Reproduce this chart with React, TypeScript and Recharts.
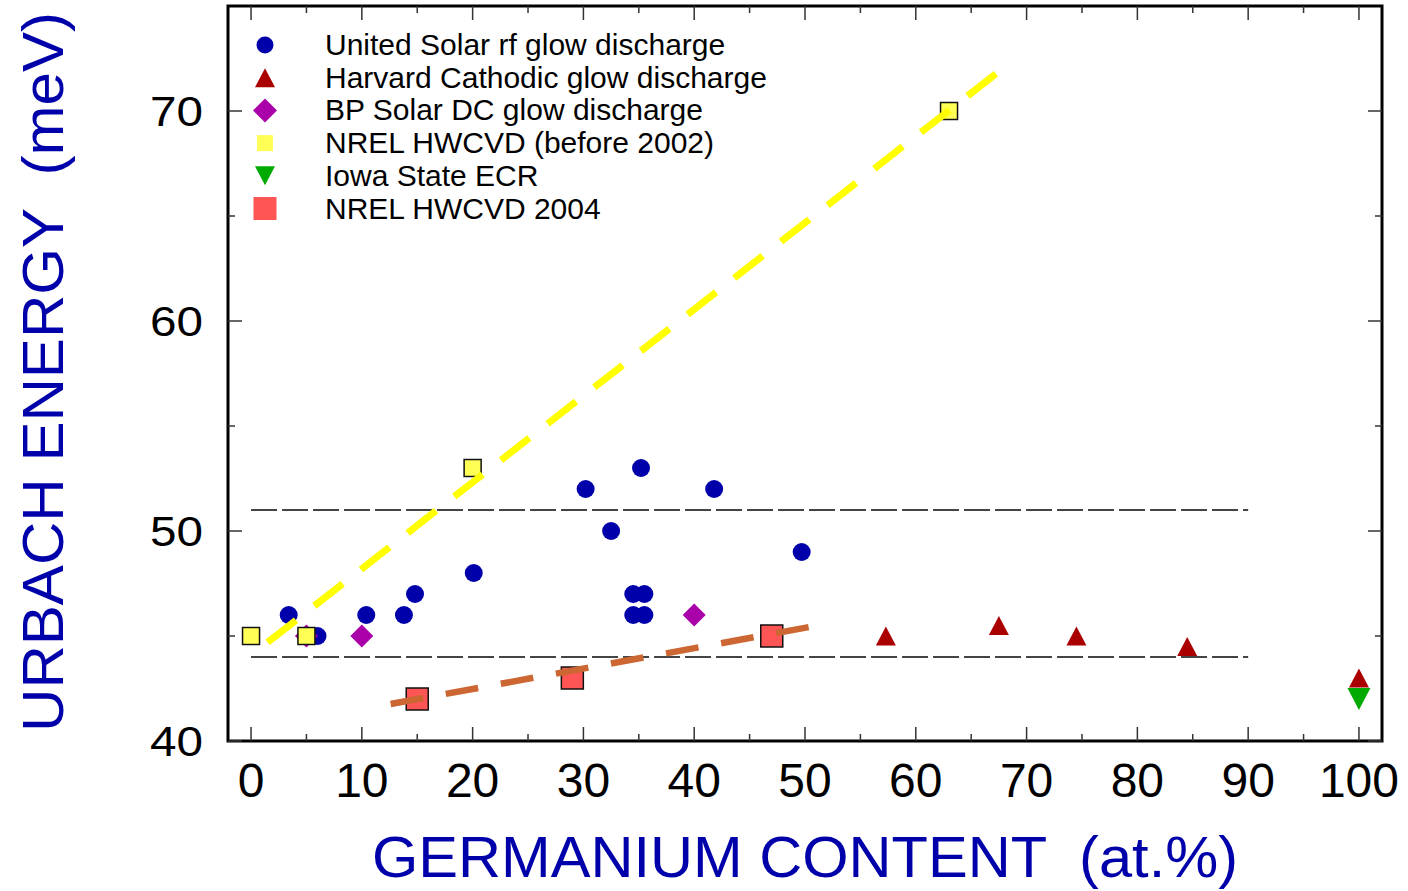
import { ScatterChart, Scatter, XAxis, YAxis, ReferenceArea, Legend } from 'recharts';

const FONT = '"Liberation Sans", Arial, Helvetica, sans-serif';

const WIDTH = 1408;
const HEIGHT = 891;
const X_AXIS_HEIGHT = 150;
const Y_AXIS_WIDTH = 228;
const MARGIN = { top: 6, right: 26, bottom: 0, left: 0 };
const PLOT = {
  left: MARGIN.left + Y_AXIS_WIDTH,
  top: MARGIN.top,
  right: WIDTH - MARGIN.right,
  bottom: HEIGHT - MARGIN.bottom - X_AXIS_HEIGHT,
};

const X_DOMAIN = [-2.08, 102.08];
const Y_DOMAIN = [40, 75];
const X_TICKS = [0, 5, 10, 15, 20, 25, 30, 35, 40, 45, 50, 55, 60, 65, 70, 75, 80, 85, 90, 95, 100];
const Y_TICKS = [40, 45, 50, 55, 60, 65, 70];

const BLUE = '#0000aa';
const RED = '#aa0000';
const MAGENTA = '#aa00aa';
const YELLOW = '#ffff55';
const GREEN = '#00aa00';
const SALMON = '#ff5555';

// Ge content (at.%) and Urbach energy (meV) per lab
const unitedSolarGe = [3.4, 6, 10.4, 13.8, 14.8, 20.1, 30.2, 32.5, 34.5, 35.5, 34.5, 35.5, 35.2, 41.8, 49.7];
const unitedSolarEu = [46, 45, 46, 46, 47, 48, 52, 50, 47, 47, 46, 46, 53, 52, 49];

const harvardGe = [57.3, 67.5, 74.5, 84.5, 100];
const harvardEu = [45, 45.5, 45, 44.5, 43];

const bpSolarGe = [5, 10, 40];
const bpSolarEu = [45, 45, 46];

const nrelOldGe = [0, 5, 20, 63];
const nrelOldEu = [45, 45, 53, 70];

const iowaGe = [100];
const iowaEu = [42];

const nrel2004Ge = [15, 29, 47];
const nrel2004Eu = [42, 43, 45];

// horizontal band limits
const bandGe = [0, 90];
const bandUpperEu = [51, 51];
const bandLowerEu = [44, 44];

// trend lines
const hwcvdTrendGe = [1.5, 67.3];
const hwcvdTrendEu = [44.7, 71.8];
const hwcvd2004TrendGe = [12.6, 50.4];
const hwcvd2004TrendEu = [41.76, 45.43];

const toPoints = (xs: number[], ys: number[]) => xs.map((x, i) => ({ x, y: ys[i] }));

type MarkerKind = 'circle' | 'triUp' | 'triDown' | 'diamond' | 'square';

function drawMarker(kind: MarkerKind, cx: number, cy: number, size: number, fill: string, stroke?: string) {
  const h = size / 2;
  const strokeProps = stroke ? { stroke, strokeWidth: 1.5 } : { stroke: 'none' };
  switch (kind) {
    case 'circle':
      return <circle cx={cx} cy={cy} r={h} fill={fill} {...strokeProps} />;
    case 'triUp': {
      const th = size * 0.95;
      return (
        <polygon
          points={`${cx},${cy - th / 2} ${cx + h},${cy + th / 2} ${cx - h},${cy + th / 2}`}
          fill={fill}
          {...strokeProps}
        />
      );
    }
    case 'triDown': {
      const th = size * 0.95;
      return (
        <polygon
          points={`${cx - h},${cy - th / 2} ${cx + h},${cy - th / 2} ${cx},${cy + th / 2}`}
          fill={fill}
          {...strokeProps}
        />
      );
    }
    case 'diamond':
      return (
        <polygon
          points={`${cx},${cy - h} ${cx + h},${cy} ${cx},${cy + h} ${cx - h},${cy}`}
          fill={fill}
          {...strokeProps}
        />
      );
    default:
      return <rect x={cx - h} y={cy - h} width={size} height={size} fill={fill} {...strokeProps} />;
  }
}

const markerShape = (kind: MarkerKind, size: number, fill: string, stroke?: string) => (p: any) =>
  drawMarker(kind, p.cx, p.cy, size, fill, stroke);

const noShape = () => <g />;

const LEGEND_ITEMS: { name: string; kind: MarkerKind; color: string; size: number }[] = [
  { name: 'United Solar rf glow discharge', kind: 'circle', color: BLUE, size: 17 },
  { name: 'Harvard Cathodic glow discharge', kind: 'triUp', color: RED, size: 20 },
  { name: 'BP Solar DC glow discharge', kind: 'diamond', color: MAGENTA, size: 24 },
  { name: 'NREL HWCVD (before 2002)', kind: 'square', color: YELLOW, size: 16 },
  { name: 'Iowa State ECR', kind: 'triDown', color: GREEN, size: 20 },
  { name: 'NREL HWCVD 2004', kind: 'square', color: SALMON, size: 23 },
];

function LegendBox() {
  return (
    <svg width={820} height={230} style={{ display: 'block' }}>
      {LEGEND_ITEMS.map((item, i) => {
        const cy = 45 + i * 32.7;
        return (
          <g key={item.name}>
            {drawMarker(item.kind, 265, cy, item.size, item.color)}
            <text x={325} y={cy + 10} fontSize={30} fontFamily={FONT} fill="#000">
              {item.name}
            </text>
          </g>
        );
      })}
    </svg>
  );
}

function XTick({ x, payload }: any) {
  const v = payload.value;
  const major = v % 10 === 0;
  const len = major ? 14 : 7;
  return (
    <g>
      <line x1={x} x2={x} y1={PLOT.bottom} y2={PLOT.bottom - len} stroke="#333" strokeWidth={1.5} />
      <line x1={x} x2={x} y1={PLOT.top} y2={PLOT.top + len} stroke="#333" strokeWidth={1.5} />
      {major && (
        <text x={x} y={PLOT.bottom + 56} textAnchor="middle" fontSize={48} fontFamily={FONT} fill="#000">
          {v}
        </text>
      )}
    </g>
  );
}

function YTick({ y, payload }: any) {
  const v = payload.value;
  const major = v % 10 === 0;
  const len = major ? 14 : 7;
  return (
    <g>
      <line x1={PLOT.left} x2={PLOT.left + len} y1={y} y2={y} stroke="#333" strokeWidth={1.5} />
      <line x1={PLOT.right} x2={PLOT.right - len} y1={y} y2={y} stroke="#333" strokeWidth={1.5} />
      {major && (
        <text
          x={PLOT.left - 25}
          y={y + 15}
          textAnchor="end"
          fontSize={42}
          fontFamily={FONT}
          fill="#000"
          textLength={53}
          lengthAdjust="spacingAndGlyphs"
        >
          {v}
        </text>
      )}
    </g>
  );
}

function XTitle() {
  return (
    <text
      x={372}
      y={877}
      fontSize={57}
      fontFamily={FONT}
      fill={BLUE}
      textLength={866}
      lengthAdjust="spacingAndGlyphs"
      style={{ whiteSpace: 'pre' }}
    >
      GERMANIUM CONTENT  (at.%)
    </text>
  );
}

function YTitle() {
  return (
    <text
      transform="translate(63, 732) rotate(-90)"
      x={0}
      y={0}
      fontSize={58}
      fontFamily={FONT}
      fill={BLUE}
      textLength={720}
      lengthAdjust="spacingAndGlyphs"
      style={{ whiteSpace: 'pre' }}
    >
      URBACH ENERGY  (meV)
    </text>
  );
}

export default function App() {
  return (
    <div style={{ position: 'absolute', left: 0, top: 0, width: WIDTH, height: HEIGHT, background: '#fff' }}>
      <ScatterChart width={WIDTH} height={HEIGHT} margin={MARGIN}>
        <XAxis
          type="number"
          dataKey="x"
          domain={X_DOMAIN}
          ticks={X_TICKS}
          allowDataOverflow
          height={X_AXIS_HEIGHT}
          axisLine={false}
          tickLine={false}
          tickSize={0}
          tickMargin={0}
          tick={<XTick />}
          interval={0}
          label={<XTitle />}
        />
        <YAxis
          type="number"
          dataKey="y"
          domain={Y_DOMAIN}
          ticks={Y_TICKS}
          allowDataOverflow
          width={Y_AXIS_WIDTH}
          axisLine={false}
          tickLine={false}
          tickSize={0}
          tickMargin={0}
          tick={<YTick />}
          interval={0}
          label={<YTitle />}
        />
        <ReferenceArea
          x1={X_DOMAIN[0]}
          x2={X_DOMAIN[1]}
          y1={Y_DOMAIN[0]}
          y2={Y_DOMAIN[1]}
          fill="none"
          stroke="#000"
          strokeWidth={3}
          ifOverflow="visible"
        />
        <Scatter
          data={toPoints(bandGe, bandUpperEu)}
          line={{ stroke: '#444', strokeWidth: 2, strokeDasharray: '26 5' }}
          shape={noShape}
          legendType="none"
          isAnimationActive={false}
        />
        <Scatter
          data={toPoints(bandGe, bandLowerEu)}
          line={{ stroke: '#444', strokeWidth: 2, strokeDasharray: '26 5' }}
          shape={noShape}
          legendType="none"
          isAnimationActive={false}
        />
        <Scatter
          name="United Solar rf glow discharge"
          data={toPoints(unitedSolarGe, unitedSolarEu)}
          shape={markerShape('circle', 18, BLUE)}
          isAnimationActive={false}
        />
        <Scatter
          name="Harvard Cathodic glow discharge"
          data={toPoints(harvardGe, harvardEu)}
          shape={markerShape('triUp', 20, RED)}
          isAnimationActive={false}
        />
        <Scatter
          name="BP Solar DC glow discharge"
          data={toPoints(bpSolarGe, bpSolarEu)}
          shape={markerShape('diamond', 23, MAGENTA)}
          isAnimationActive={false}
        />
        <Scatter
          name="NREL HWCVD (before 2002)"
          data={toPoints(nrelOldGe, nrelOldEu)}
          shape={markerShape('square', 17, YELLOW, '#111')}
          isAnimationActive={false}
        />
        <Scatter
          name="Iowa State ECR"
          data={toPoints(iowaGe, iowaEu)}
          shape={markerShape('triDown', 23, GREEN)}
          isAnimationActive={false}
        />
        <Scatter
          name="NREL HWCVD 2004"
          data={toPoints(nrel2004Ge, nrel2004Eu)}
          shape={markerShape('square', 22, SALMON, '#111')}
          isAnimationActive={false}
        />
        <Scatter
          data={toPoints(hwcvdTrendGe, hwcvdTrendEu)}
          line={{ stroke: '#ffff00', strokeWidth: 7, strokeDasharray: '36 23.2' }}
          shape={noShape}
          legendType="none"
          isAnimationActive={false}
        />
        <Scatter
          data={toPoints(hwcvd2004TrendGe, hwcvd2004TrendEu)}
          line={{ stroke: '#cc6633', strokeWidth: 6.5, strokeDasharray: '33 23' }}
          shape={noShape}
          legendType="none"
          isAnimationActive={false}
        />
        <Legend
          layout="vertical"
          align="center"
          verticalAlign="middle"
          content={() => <LegendBox />}
          wrapperStyle={{ left: 0, top: 0, width: 820, height: 230 }}
        />
      </ScatterChart>
    </div>
  );
}
